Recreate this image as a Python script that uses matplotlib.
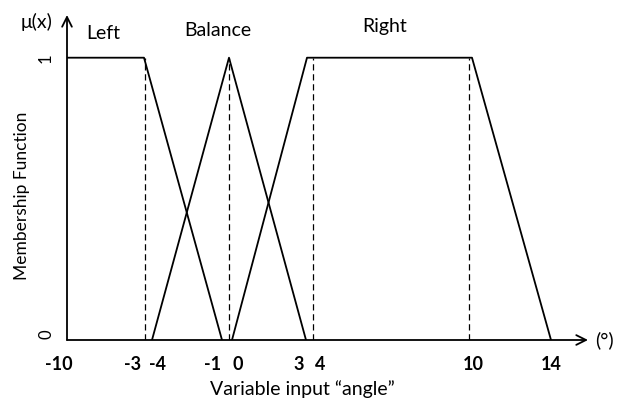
import matplotlib
matplotlib.use("Agg")
import matplotlib.pyplot as plt

# schematic x positions (axis units, origin = -10), membership 0..1
left_x = [0, 77, 155]
left_y = [1, 1, 0]
balance_x = [85, 162, 239]
balance_y = [0, 1, 0]
right_x = [165, 240, 405, 484]
right_y = [0, 1, 1, 0]
dashed_x = [78, 162, 246, 402]

tick_pos = [-8, 66, 91, 146, 171, 232, 253, 406, 484]
tick_labels = ["-10", "-3", "-4", "-1", "0", "3", "4", "10", "14"]

set_names = ["Left", "Balance", "Right"]
set_label_x = [36, 151, 318]
set_label_y = [1.085, 1.095, 1.11]

plt.rcParams['font.family'] = ['Lato', 'DejaVu Sans']

fig = plt.figure(figsize=(6.22, 4.03), dpi=100)
W, H = 622, 403
# axes box in pixels: left 67, right 588, bottom 340, top 15
ax = fig.add_axes([67 / W, (H - 340) / H, (588 - 67) / W, (340 - 15) / H])
ax.set_xlim(0, 521)
ax.set_ylim(0, 325 / 282.3)
ax.axis("off")

lw = 1.3
ax.plot(left_x, left_y, color="black", lw=lw)
ax.plot(balance_x, balance_y, color="black", lw=lw)
ax.plot(right_x, right_y, color="black", lw=lw)
for xd in dashed_x:
    ax.plot([xd, xd], [0, 1], color="black", lw=0.9, ls=(0, (5, 3)))

# axes with arrows
ax.annotate("", xy=(521, 0), xytext=(0, 0),
            arrowprops=dict(arrowstyle="->,head_length=0.7,head_width=0.35", color="black", lw=lw,
                            shrinkA=0, shrinkB=0))
ax.annotate("", xy=(0, 325 / 282.3), xytext=(0, 0),
            arrowprops=dict(arrowstyle="->,head_length=0.7,head_width=0.35", color="black", lw=lw,
                            shrinkA=0, shrinkB=0))

for p, t in zip(tick_pos, tick_labels):
    ax.text(p, -25 / 282.3, t, ha="center", va="center", fontsize=13, fontweight="bold")

ax.text(-21, 1, "1", rotation=90, ha="center", va="center", fontsize=12)
ax.text(-21, 0.02, "0", rotation=90, ha="center", va="center", fontsize=12)
ax.text(-30, 1.125, "\u03bc(x)", ha="center", va="center", fontsize=14)
ax.text(537, 0, "(\u00b0)", ha="center", va="center", fontsize=14)

for name, lx, ly in zip(set_names, set_label_x, set_label_y):
    ax.text(lx, ly, name, ha="center", va="center", fontsize=14)

ax.text(-45, 0.51, "Membership Function", rotation=90, ha="center", va="center", fontsize=12.5)
ax.text(235, -49 / 282.3, "Variable input \u201cangle\u201d", ha="center", va="center", fontsize=14)

fig.savefig("out.png", dpi=100)
